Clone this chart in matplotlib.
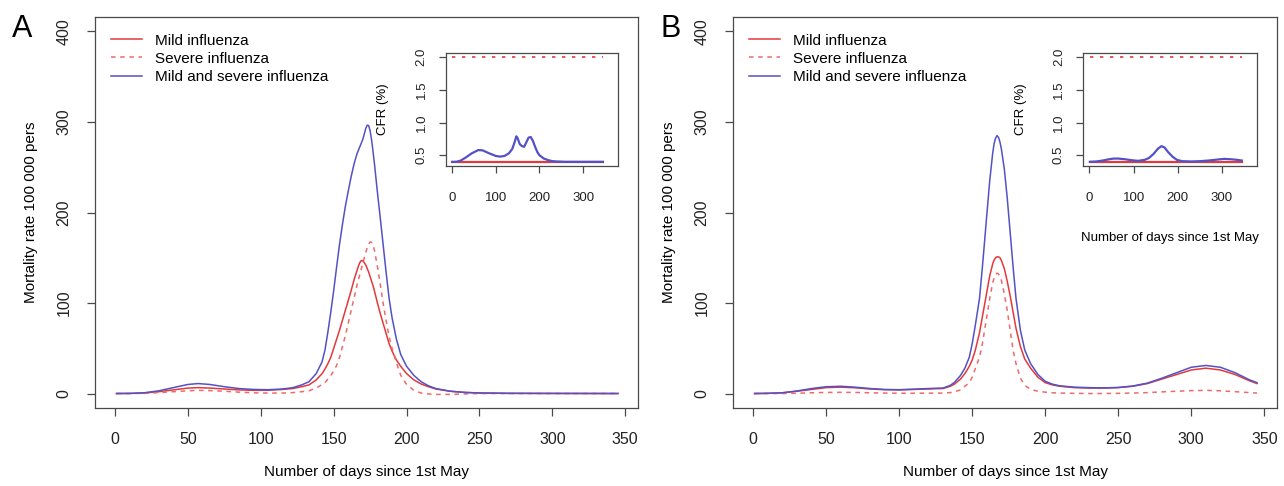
#!/usr/bin/env python3
"""
Mortality rate curves (mild / severe / mixed influenza) with CFR insets, panels A and B.
"""

import matplotlib
matplotlib.use('Agg')
import matplotlib.pyplot as plt

plt.rcParams['font.family'] = ['Liberation Sans', 'DejaVu Sans']

# ---- Panel A: mortality rate per 100 000 ----
days_a = [1, 10, 20, 30, 40, 50, 57, 65, 75, 85, 95, 105, 115, 122, 128, 133, 138, 142,
          144, 146, 148, 150, 152, 154, 156, 158, 160, 162, 164, 166, 167, 168, 169, 170,
          171, 172, 173, 174, 175, 176, 177, 178, 180, 182, 184, 186, 188, 190, 193, 196,
          200, 205, 210, 215, 220, 230, 240, 250, 270, 300, 345]
mild_a = [0, 0.1, 0.6, 2, 4, 6, 6.5, 6, 5, 4, 3.5, 3.6, 4.5, 5.5, 7.5, 9.5, 15, 22,
          27, 33, 40, 50, 60, 70, 81, 92, 103, 114, 126, 136, 141, 145, 147, 146.5,
          144.5, 142, 138, 134, 129, 124, 119, 113, 100, 88, 77, 66, 55, 47, 37, 30,
          22, 15, 10.5, 7.5, 5, 2.5, 1.2, 0.6, 0.2, 0.1, 0]
severe_a = [0, 0, 0.2, 1, 2, 3, 3.5, 3.2, 2.5, 1.5, 0.8, 0.5, 0.5, 1, 2, 3, 6, 10,
            12, 16, 20, 25, 31, 40, 52, 64, 78, 92, 106, 120, 126, 132, 138, 144,
            150, 156, 161, 165, 167.5, 167, 163.5, 158, 140, 120, 99, 80, 63, 50, 34, 20,
            10, 3.5, 0.5, -0.5, -1, -1, -0.5, 0, 0, 0, 0]
both_a = [0, 0.1, 0.8, 3, 6.5, 10, 11, 10, 7.5, 5.5, 4.5, 4.2, 5, 6.5, 9.5, 13, 22, 35,
          48, 68, 90, 114, 140, 165, 187, 207, 224, 240, 254, 265, 269, 273, 277, 281,
          287, 293, 296.5, 296, 290, 280, 267, 253, 222, 193, 163, 133, 105, 84, 60, 43,
          30, 20, 13, 8.5, 5.5, 2.5, 1.2, 0.6, 0.2, 0.1, 0]

# ---- Panel B: mortality rate per 100 000 ----
days_b = [1, 10, 20, 30, 40, 50, 60, 70, 80, 90, 100, 110, 120, 125, 130, 135, 138, 142,
          145, 148, 150, 152, 155, 157, 160, 162, 164, 165, 166, 167, 168, 169, 170, 172,
          174, 176, 178, 180, 183, 186, 190, 195, 200, 205, 210, 220, 230, 240, 250, 260,
          270, 280, 290, 300, 310, 320, 330, 340, 345]
mild_b = [0, 0.2, 0.8, 2.5, 4.5, 6.5, 7, 6.3, 5, 4.2, 4, 4.5, 5, 5.3, 5.5, 8, 10.5, 16,
          22, 30, 37, 47, 67, 85, 112, 130, 143, 147.5, 150, 151, 151, 150, 147, 138,
          124, 108, 90, 72, 52, 38, 28, 18, 12, 9.5, 8, 6.5, 6, 6, 6.5, 8,
          11, 16, 21, 26, 28, 26, 21, 14, 11]
severe_b = [0, 0, 0, 0.3, 0.8, 1.2, 1.3, 1.2, 0.8, 0.5, 0.3, 0.3, 0.4, 0.4, 0.5, 1, 2, 4,
            8, 12, 18, 27, 40, 55, 85, 105, 122, 127.5, 131, 133, 132, 129.5, 125, 110,
            92, 70, 48, 33, 17, 9, 4.5, 2.5, 1.5, 0.8, 0.5, 0.2, 0, 0, 0.2, 0.5,
            1, 1.8, 2.5, 3.2, 3.5, 3, 2, 1, 0.5]
both_b = [0, 0.2, 0.8, 2.8, 5.5, 7.5, 8, 7, 5.5, 4.5, 4.2, 4.8, 5.5, 5.8, 6, 9, 12.5, 20,
          28, 40, 55, 74, 105, 140, 197, 235, 265, 276, 282, 285, 283, 278, 270, 248,
          216, 178, 140, 105, 70, 48, 33, 21, 13.5, 10.3, 8.5, 7, 6.5, 6.2, 6.7, 8.3,
          11.5, 17, 23, 29, 31, 29, 23, 15, 12]

# ---- Insets: case fatality ratio (%) ----
cfr_days = [1, 345]
cfr_mild = [0.4, 0.4]
cfr_severe = [2.0, 2.0]

cfr_days_a = [1, 10, 20, 30, 45, 60, 70, 85, 100, 110, 120, 130, 138, 143, 147, 150, 155,
              160, 165, 170, 175, 180, 185, 190, 195, 200, 210, 220, 230, 240, 260, 300, 345]
cfr_both_a = [0.4, 0.4, 0.42, 0.46, 0.53, 0.58, 0.575, 0.53, 0.49, 0.48, 0.49, 0.53, 0.6,
              0.7, 0.79, 0.76, 0.67, 0.64, 0.63, 0.7, 0.77, 0.78, 0.72, 0.63, 0.55, 0.5,
              0.45, 0.425, 0.41, 0.405, 0.4, 0.4, 0.4]

cfr_days_b = [1, 15, 30, 45, 55, 65, 80, 95, 110, 125, 135, 145, 155, 163, 170, 178, 188,
              198, 210, 230, 250, 270, 290, 305, 320, 335, 345]
cfr_both_b = [0.4, 0.405, 0.42, 0.44, 0.45, 0.45, 0.44, 0.425, 0.415, 0.43, 0.46, 0.52,
              0.6, 0.64, 0.62, 0.55, 0.48, 0.43, 0.41, 0.405, 0.41, 0.42, 0.435, 0.445,
              0.44, 0.43, 0.42]

labels = ['Mild influenza', 'Severe influenza', 'Mild and severe influenza']
RED = '#e3393d'
PINK = '#ee6a6a'
BLUE = '#5252c6'
EDGE = '#4a4a4a'
DASH = (3, 3)


def style_axes(ax, size, tick_len, pad_x, pad_y):
    for s in ax.spines.values():
        s.set_color(EDGE)
        s.set_linewidth(0.9)
    ax.tick_params(colors='#222222', labelsize=size, length=tick_len, width=0.9,
                   direction='out')
    ax.tick_params(axis='x', color=EDGE, pad=pad_x)
    ax.tick_params(axis='y', color=EDGE, pad=pad_y)
    for lab in ax.get_yticklabels():
        lab.set_rotation(90)
        lab.set_va('center')


def main_panel(ax, x, mild, severe, both):
    ax.plot(x, mild, color=RED, lw=1.1, label=labels[0])
    ax.plot(x, severe, color=PINK, lw=1.1, dashes=DASH, label=labels[1])
    ax.plot(x, both, color=BLUE, lw=1.1, label=labels[2])
    ax.set_xlim(-13.76, 358.76)
    ax.set_ylim(-16, 416)
    ax.set_xticks(range(0, 351, 50))
    ax.set_yticks(range(0, 401, 100))
    ax.set_xlabel('Number of days since 1st May', fontsize=11, labelpad=13)
    ax.set_ylabel('Mortality rate 100 000 pers', fontsize=11, labelpad=13)
    style_axes(ax, 11.5, 6, 11, 11)
    ax.legend(loc='upper left', bbox_to_anchor=(0.01, 0.985), frameon=False,
              fontsize=11, handlelength=2.0, handletextpad=0.9, labelspacing=0.28,
              borderpad=0.2)


def inset_panel(ax, x, both, with_xlabel):
    ax.plot(cfr_days, cfr_severe, color=RED, lw=1.2, dashes=(2, 4))
    ax.plot(cfr_days, cfr_mild, color=RED, lw=1.6)
    ax.plot(x, both, color=BLUE, lw=1.6)
    ax.set_xlim(-14.6, 379.6)
    ax.set_ylim(0.336, 2.064)
    ax.set_xticks([0, 100, 200, 300])
    ax.set_yticks([0.5, 1.0, 1.5, 2.0])
    ax.set_yticklabels(['0.5', '1.0', '1.5', '2.0'])
    ax.set_ylabel('CFR (%)', fontsize=9.5, labelpad=19)
    if with_xlabel:
        ax.set_xlabel('Number of days since 1st May', fontsize=9.5, labelpad=20)
    style_axes(ax, 9.5, 5, 14, 8)


fig = plt.figure(figsize=(12.84, 4.86), dpi=100)

ax_a = fig.add_axes([0.074, 0.1605, 0.4229, 0.8045])
ax_b = fig.add_axes([0.5709, 0.1605, 0.4237, 0.8045])
main_panel(ax_a, days_a, mild_a, severe_a, both_a)
main_panel(ax_b, days_b, mild_b, severe_b, both_b)

ins_a = fig.add_axes([0.3471, 0.6584, 0.1342, 0.2325])
ins_b = fig.add_axes([0.8435, 0.6584, 0.1355, 0.2325])
inset_panel(ins_a, cfr_days_a, cfr_both_a, False)
inset_panel(ins_b, cfr_days_b, cfr_both_b, True)

# panel letters
fig.text(0.017, 0.94, 'A', fontsize=22, ha='center', va='center')
fig.text(0.522, 0.94, 'B', fontsize=22, ha='center', va='center')

fig.savefig('out.png', dpi=100, facecolor='white')
print("Created out.png")
